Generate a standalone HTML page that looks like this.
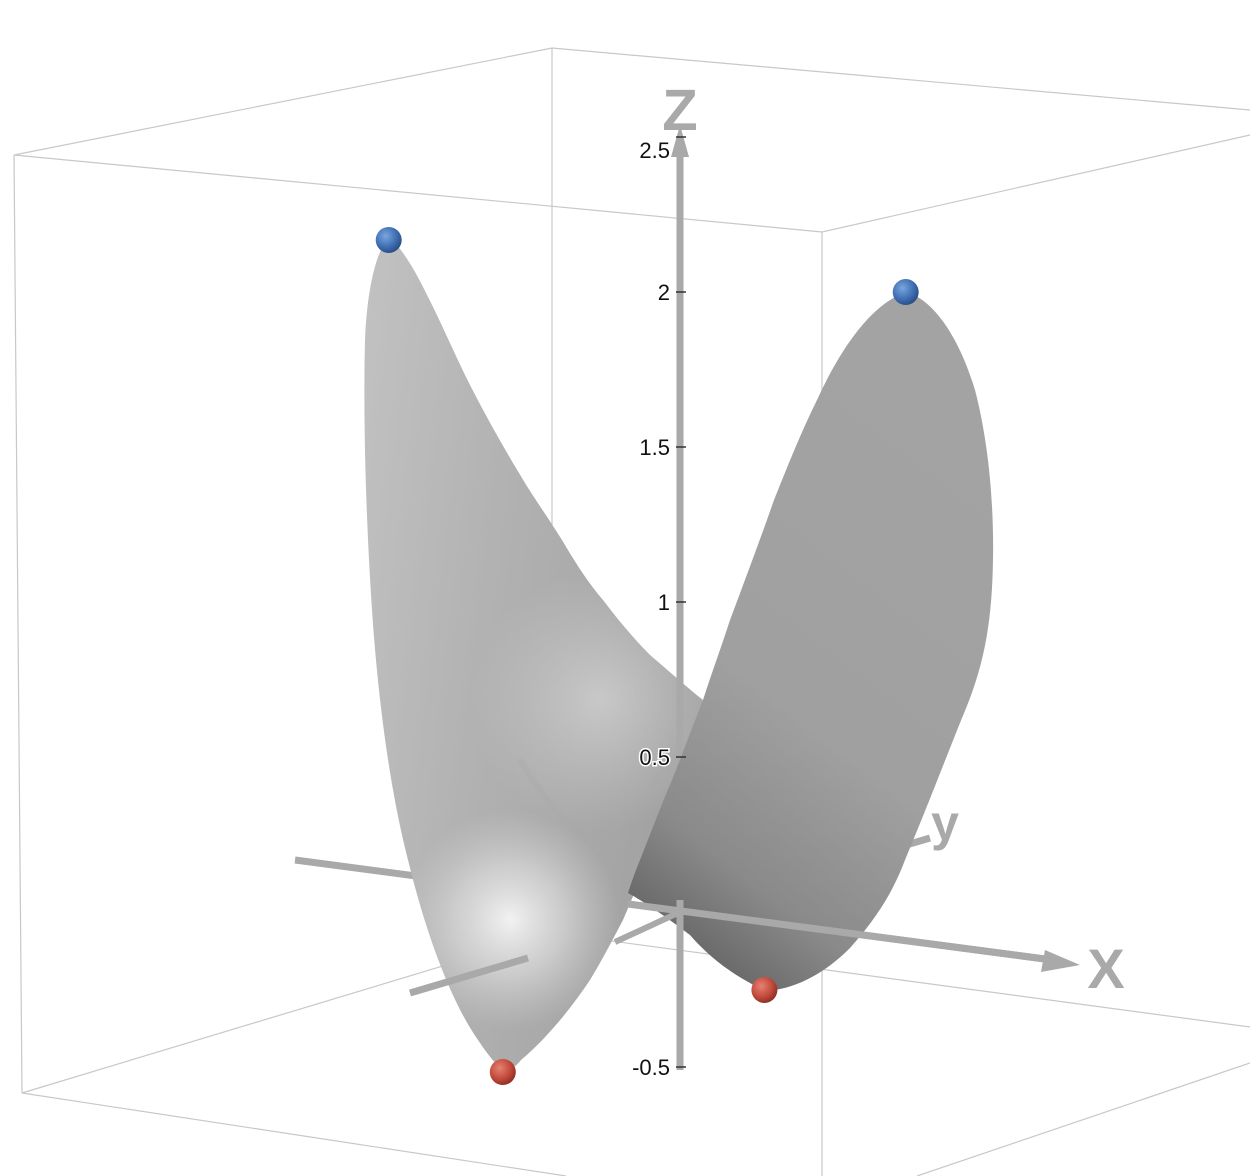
<!DOCTYPE html>
<html><head><meta charset="utf-8"><style>
html,body{margin:0;padding:0;background:#fff;}
svg{display:block;font-family:"Liberation Sans",sans-serif;}
</style></head><body>
<svg id="chart" width="1250" height="1176" viewBox="0 0 1250 1176" xmlns="http://www.w3.org/2000/svg">
<defs>
<linearGradient id="gLeft" x1="0" y1="0" x2="1" y2="0.3">
<stop offset="0" stop-color="#c2c2c2"/><stop offset="0.45" stop-color="#b2b2b2"/><stop offset="1" stop-color="#a2a2a2"/>
</linearGradient>
<radialGradient id="gHi" cx="510" cy="920" r="110" gradientUnits="userSpaceOnUse">
<stop offset="0" stop-color="#f2f2f2" stop-opacity="1"/><stop offset="0.5" stop-color="#e0e0e0" stop-opacity="0.6"/><stop offset="1" stop-color="#d0d0d0" stop-opacity="0"/>
</radialGradient>
<radialGradient id="gSad" cx="600" cy="700" r="130" gradientUnits="userSpaceOnUse">
<stop offset="0" stop-color="#d0d0d0" stop-opacity="0.8"/><stop offset="1" stop-color="#c8c8c8" stop-opacity="0"/>
</radialGradient>
<linearGradient id="gRight" x1="0" y1="1" x2="0.4" y2="0">
<stop offset="0" stop-color="#4e4e4e"/><stop offset="0.25" stop-color="#8a8a8a"/><stop offset="0.5" stop-color="#a0a0a0"/><stop offset="1" stop-color="#a3a3a3"/>
</linearGradient>
<radialGradient id="gBlue" cx="0.38" cy="0.35" r="0.7"><stop offset="0" stop-color="#7aa6de"/><stop offset="0.6" stop-color="#3f6fb3"/><stop offset="1" stop-color="#274a80"/></radialGradient>
<radialGradient id="gRed" cx="0.38" cy="0.35" r="0.7"><stop offset="0" stop-color="#e68272"/><stop offset="0.6" stop-color="#c24a3c"/><stop offset="1" stop-color="#8a2c22"/></radialGradient>
<clipPath id="clipLeft"><path d="M389,238 C376,250 367,290 365,340 C363,420 366,520 372,610 C378,700 390,790 408,860 C425,930 450,1000 478,1040 C490,1058 500,1070 505,1070 C512,1070 518,1064 521,1060 C545,1040 570,1010 590,980 C605,955 615,935 623,920 C640,880 660,830 680,790 C690,760 698,730 703,700 C690,690 670,672 650,655 C635,640 618,620 603,600 C590,585 578,567 565,545 C550,520 535,500 522,478 C505,450 488,420 470,385 C455,355 440,320 427,295 C415,270 400,245 389,238 Z"/></clipPath>
</defs>

<g stroke="#c8c8c8" stroke-width="1.2" fill="none">
<path d="M14,155 L552,48 L1250,110 M14,155 L822,232 L1250,135 M14,155 L22,1093 M552,48 L552,933 M822,232 L822,1176 M22,1093 L566,1176 M22,1093 L552,933 L1250,1027 M1250,1063 L917,1176"/>
</g>

<g id="under"></g>

<path fill="url(#gLeft)" d="M389,238 C376,250 367,290 365,340 C363,420 366,520 372,610 C378,700 390,790 408,860 C425,930 450,1000 478,1040 C490,1058 500,1070 505,1070 C512,1070 518,1064 521,1060 C545,1040 570,1010 590,980 C605,955 615,935 623,920 C640,880 660,830 680,790 C690,760 698,730 703,700 C690,690 670,672 650,655 C635,640 618,620 603,600 C590,585 578,567 565,545 C550,520 535,500 522,478 C505,450 488,420 470,385 C455,355 440,320 427,295 C415,270 400,245 389,238 Z"/>
<g clip-path="url(#clipLeft)">
<rect x="360" y="560" width="360" height="330" fill="url(#gSad)"/>
<rect x="380" y="780" width="280" height="300" fill="url(#gHi)"/>
<path d="M520,760 C550,810 580,840 602,836 C625,830 650,790 670,760" fill="none" stroke="#a8a8a8" stroke-width="6" stroke-opacity="0.35"/>
</g>

<g id="mid"></g>

<path fill="url(#gRight)" d="M906,292 C935,300 960,340 975,390 C988,440 994,500 993,560 C992,620 985,665 962,718 C945,760 930,800 905,860 C890,900 870,925 850,948 C830,968 805,985 775,990 C765,992 758,988 750,983 C730,972 710,958 690,935 C670,920 650,905 628,893 C632,880 636,870 640,860 C650,835 660,808 672,780 C682,755 692,728 703,700 C712,672 722,645 730,620 C745,580 760,540 774,500 C788,465 802,430 817,400 C840,350 870,305 906,292 Z"/>

<g id="over"></g>
<g id="labels"></g>
<g id="points"></g>
</svg>
<script>
// data
const zTicks = [-0.5, 0.5, 1, 1.5, 2, 2.5];
const zTickLabels = ["-0.5", "0.5", "1", "1.5", "2", "2.5"];
const maxX = [-2.49, 1.21];
const maxY = [0.27, 0.57];
const maxZ = [2.0, 2.0];
const minX = [-0.86, 0.46];
const minY = [-0.545, 0.205];
const minZ = [-0.5, -0.25];

const NS = "http://www.w3.org/2000/svg";
const O = [680, 912];
function proj(x, y, z) {
  return [O[0] + x * 130 + y * 120, O[1] + x * 17 - y * 36 - z * 310];
}
function zPos(z) { return proj(0, 0, z)[1]; }
function mk(parent, tag, attrs) {
  const e = document.createElementNS(NS, tag);
  for (const k in attrs) e.setAttribute(k, attrs[k]);
  parent.appendChild(e);
  return e;
}
const under = document.getElementById('under');
const mid = document.getElementById('mid');
const over = document.getElementById('over');
const labels = document.getElementById('labels');
const pts = document.getElementById('points');
const AX = "#a9a9a9";

let l = mk(under, 'line', {x1: 295, y1: 860, x2: 1060, y2: 961, stroke: AX, 'stroke-width': 7});


l = mk(under, 'line', {x1: 680, y1: 912, x2: 930, y2: 838, stroke: AX, 'stroke-width': 7});



const zTop = zPos(2.5) + 18;
const zBot = zPos(-0.5) + 3;
l = mk(mid, 'line', {x1: 680, y1: zBot, x2: 680, y2: zTop, stroke: AX, 'stroke-width': 7});


let a = mk(mid, 'polygon', {points: `671,${zTop + 2} 689,${zTop + 2} 680,${zTop - 30}`, fill: AX});



l = mk(over, 'line', {x1: 680, y1: 900, x2: 680, y2: zBot, stroke: AX, 'stroke-width': 7});


l = mk(over, 'line', {x1: 628, y1: 904, x2: 1060, y2: 961, stroke: AX, 'stroke-width': 7});


a = mk(over, 'polygon', {points: "1045,950 1080,965 1041,972", fill: AX});


l = mk(over, 'line', {x1: 410, y1: 993, x2: 528, y2: 958, stroke: AX, 'stroke-width': 7});


l = mk(over, 'line', {x1: 615, y1: 942, x2: 680, y2: 912, stroke: AX, 'stroke-width': 6});



zTicks.forEach((z, i) => {
  const y = zPos(z);
  const t = mk(over, 'line', {x1: 676, y1: y, x2: 686, y2: y, stroke: '#333', 'stroke-width': 1.5});
  
  
  const ly = Math.max(y, 150);
  const tx = mk(labels, 'text', {x: 670, y: ly + 8, 'text-anchor': 'end', 'font-size': 22, fill: '#111', stroke: z === 0.5 ? '#fff' : 'none', 'stroke-width': 3, 'paint-order': 'stroke'});
  tx.textContent = zTickLabels[i];
  
  
});

let t = mk(labels, 'text', {x: 680, y: 130, 'text-anchor': 'middle', 'font-size': 58, 'font-weight': 'bold', fill: '#a9a9a9'});
t.textContent = 'Z';


t = mk(labels, 'text', {x: 1106, y: 988, 'text-anchor': 'middle', 'font-size': 56, 'font-weight': 'bold', fill: '#a9a9a9'});
t.textContent = 'X';


t = mk(labels, 'text', {x: 945, y: 840, 'text-anchor': 'middle', 'font-size': 50, 'font-weight': 'bold', fill: '#a9a9a9'});
t.textContent = 'y';



maxX.forEach((x, i) => {
  const p = proj(x, maxY[i], maxZ[i]);
  const c = mk(pts, 'circle', {cx: p[0], cy: p[1], r: 13, fill: 'url(#gBlue)'});
  
  
});
minX.forEach((x, i) => {
  const p = proj(x, minY[i], minZ[i]);
  const c = mk(pts, 'circle', {cx: p[0], cy: p[1], r: 13, fill: 'url(#gRed)'});
  
  
});
</script>
</body></html>
